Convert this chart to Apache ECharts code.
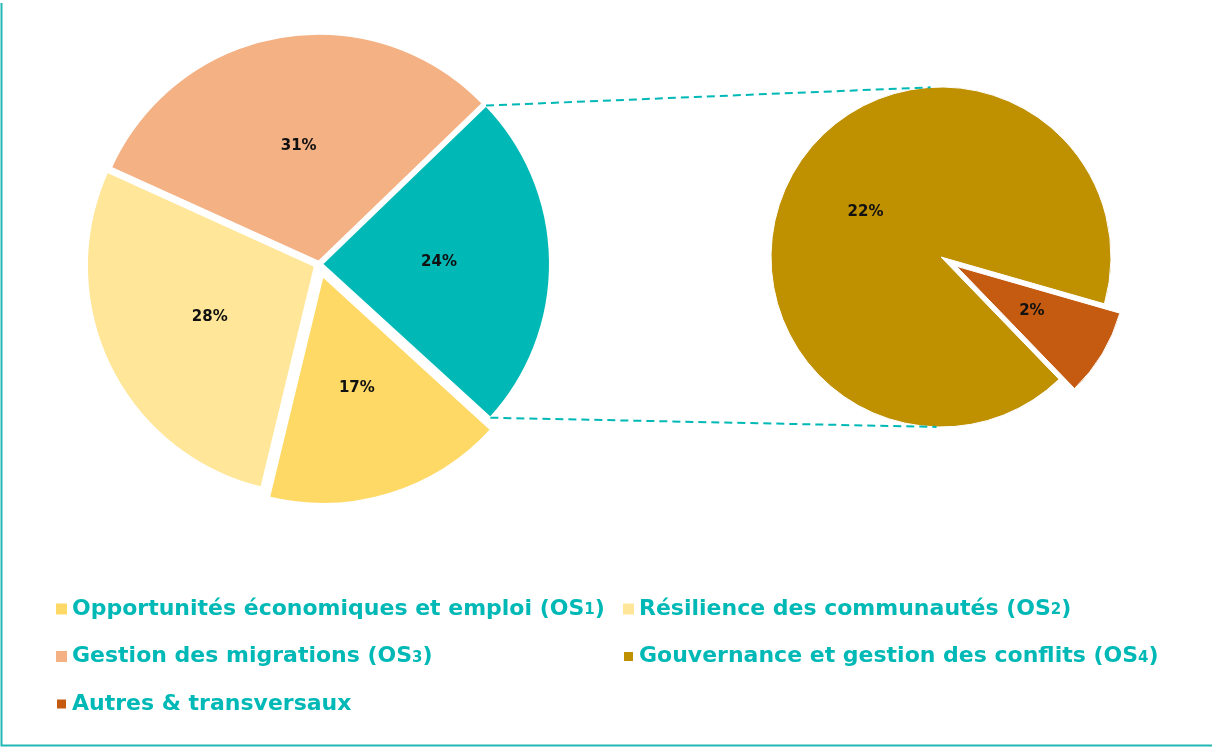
<!DOCTYPE html>
<html>
<head>
<meta charset="utf-8">
<script src="https://cdn.jsdelivr.net/npm/echarts@6/dist/echarts.min.js"></script>
<style>
  html, body { margin: 0; padding: 0; background: #ffffff; }
  #chart { width: 1212px; height: 747px; }
</style>
</head>
<body>
<div id="chart"></div>
<script>
// Strategic objectives (share of budget, %)
const mainNames = [
  'Opportunités économiques et emploi (OS1)',
  'Résilience des communautés (OS2)',
  'Gestion des migrations (OS3)'
];
const mainValues = [17, 28, 31];

// Breakdown of the grouped slice, drawn as the secondary pie
const detailNames = ['Gouvernance et gestion des conflits (OS4)', 'Autres & transversaux'];
const detailValues = [22, 2];

const groupName = 'OS4 et autres';

const colorOf = {
  'Opportunités économiques et emploi (OS1)': '#FFD966',
  'Résilience des communautés (OS2)': '#FFE699',
  'Gestion des migrations (OS3)': '#F4B183',
  'Gouvernance et gestion des conflits (OS4)': '#BF9000',
  'Autres & transversaux': '#C55A11',
  'OS4 et autres': '#00B9B6'
};

const legendLeft = [mainNames[0], mainNames[2], detailNames[1]];
const legendRight = [mainNames[1], detailNames[0]];

const TEAL = '#00B9B6';
const FONT = 'DejaVu Sans';

// Layout of the two pies
const main = { cx: 319, cy: 264, r: 228, start: 44 };
const detail = { cx: 941, cy: 257, r: 170, start: 314 };
// explosion of each main slice (group, OS1, OS2, OS3)
const mainExplode = [3, 12.5, 4.5, 2.3];
const detailExplode = [0, 18];

const groupValue = detailValues.reduce((a, b) => a + b, 0);
const mainData = [{ name: groupName, value: groupValue }]
  .concat(mainNames.map((n, i) => ({ name: n, value: mainValues[i] })));

const labelStyle = {
  show: true,
  position: 'inside',
  formatter: p => p.value + '%',
  color: '#111111',
  fontFamily: FONT,
  fontWeight: 'bold',
  fontSize: 15
};

// One series per main slice, so every slice can get its own explosion
const mainSeries = mainData.map((item, k) => ({
  type: 'pie',
  center: [main.cx, main.cy],
  radius: [0, main.r],
  startAngle: main.start,
  clockwise: true,
  selectedMode: 'single',
  selectedOffset: mainExplode[k],
  silent: true,
  avoidLabelOverlap: false,
  labelLine: { show: false },
  emphasis: { disabled: true },
  data: mainData.map((d, j) => ({
    name: d.name,
    value: d.value,
    selected: j === k,
    itemStyle: j === k
      ? { color: colorOf[d.name], borderColor: '#ffffff', borderWidth: 2 }
      : { color: 'rgba(0,0,0,0)', opacity: 0 },
    label: j === k ? labelStyle : { show: false }
  }))
}));

const detailSeries = {
  type: 'pie',
  center: [detail.cx, detail.cy],
  radius: [0, detail.r],
  startAngle: detail.start,
  clockwise: true,
  selectedMode: 'single',
  selectedOffset: detailExplode[1],
  silent: true,
  avoidLabelOverlap: false,
  labelLine: { show: false },
  emphasis: { disabled: true },
  label: labelStyle,
  data: detailNames.map((n, i) => ({
    name: n,
    value: detailValues[i],
    selected: detailExplode[i] > 0,
    itemStyle: { color: colorOf[n], borderColor: '#ffffff', borderWidth: 1 }
  }))
};

// Connector lines from the grouped slice to the secondary pie
const rad = a => a * Math.PI / 180;
const groupEnd = main.start - 360 * groupValue / (groupValue + mainValues.reduce((a, b) => a + b, 0));
const groupMid = (main.start + groupEnd) / 2;
const gx = main.cx + mainExplode[0] * Math.cos(rad(groupMid));
const gy = main.cy - mainExplode[0] * Math.sin(rad(groupMid));
const pt = (cx, cy, r, a) => [cx + r * Math.cos(rad(a)), cy - r * Math.sin(rad(a))];
const topA = pt(gx, gy, main.r, main.start);
const botA = pt(gx, gy, main.r, groupEnd);
const topB = pt(detail.cx, detail.cy, detail.r, 93.5);
const botB = pt(detail.cx, detail.cy, detail.r, -91.5);

const connector = (a, b) => ({
  type: 'line',
  silent: true,
  z: 10,
  shape: { x1: a[0], y1: a[1], x2: b[0], y2: b[1] },
  style: { stroke: TEAL, lineWidth: 2, lineDash: [8, 5] }
});

function legendLabel(name) {
  const m = name.match(/^(.*\(OS)(\d)\)$/);
  return m ? '{a|' + m[1] + '}{s|' + m[2] + '}{a|)}' : '{a|' + name + '}';
}

const legendText = {
  rich: {
    a: { fontFamily: FONT, fontWeight: 'bold', fontSize: 22, color: TEAL, lineHeight: 28 },
    s: { fontFamily: FONT, fontWeight: 'bold', fontSize: 15, color: TEAL, lineHeight: 15,
         verticalAlign: 'bottom', padding: [0, 0, 5, 0] }
  }
};

const makeLegend = (names, left) => ({
  orient: 'vertical',
  left: left,
  top: 598,
  icon: 'rect',
  itemWidth: 11,
  itemHeight: 11,
  itemGap: 22.5,
  padding: 0,
  selectedMode: false,
  formatter: legendLabel,
  textStyle: legendText,
  data: names.map(n => ({ name: n, itemStyle: { color: colorOf[n], opacity: 1 } }))
});

const chart = echarts.init(document.getElementById('chart'), null, { renderer: 'canvas' });
chart.setOption({
  animation: false,
  backgroundColor: '#ffffff',
  legend: [makeLegend(legendLeft, 55), makeLegend(legendRight, 622)],
  series: mainSeries.concat([detailSeries]),
  graphic: [
    connector(topA, topB),
    connector(botA, botB),
    {
      type: 'polyline',
      silent: true,
      shape: { points: [[1.5, 3], [1.5, 745.5], [1212, 745.5]] },
      style: { stroke: '#22B8B4', lineWidth: 2, fill: null }
    }
  ]
});
</script>
</body>
</html>
